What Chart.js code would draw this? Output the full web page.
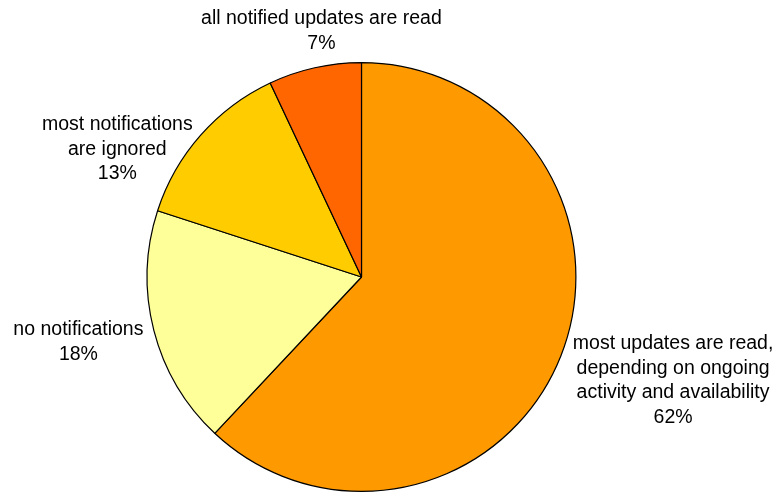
<!DOCTYPE html>
<html>
<head>
<meta charset="utf-8">
<script src="https://cdn.jsdelivr.net/npm/chart.js@4.4.1/dist/chart.umd.min.js"></script>
<style>
  html, body { margin: 0; padding: 0; background: #ffffff; }
  #wrap { width: 776px; height: 493px; position: relative; }
</style>
</head>
<body>
<div id="wrap"><canvas id="c" width="776" height="493"></canvas></div>
<script>
// ---- data ----
const categories = [
  "most updates are read,\ndepending on ongoing\nactivity and availability",
  "no notifications",
  "most notifications\nare ignored",
  "all notified updates are read"
];
const percents = [62, 18, 13, 7];
const sliceColors = ["#FF9900", "#FFFF99", "#FFCC00", "#FF6600"];

// label placement (styles / nudges, not data)
const labelPlacement = [
  { align: "left",   dx: 2,  dy: 21 },
  { align: "right",  dx: 0,  dy: 9 },
  { align: "right",  dx: 0,  dy: 21 },
  { align: "center", dx: 9,  dy: -26 }
];

const FONT = "19.5px 'Liberation Sans', Arial, sans-serif";
const LINE_H = 24.5;

const outsideLabels = {
  id: "outsideLabels",
  afterDatasetsDraw(chart) {
    const ctx = chart.ctx;
    const meta = chart.getDatasetMeta(0);
    ctx.save();
    ctx.font = FONT;
    ctx.fillStyle = "#000000";
    ctx.textBaseline = "middle";
    ctx.textAlign = "center";
    meta.data.forEach((arc, i) => {
      const p = arc.getProps(["x", "y", "startAngle", "endAngle", "outerRadius"], true);
      const mid = (p.startAngle + p.endAngle) / 2;
      const rr = p.outerRadius * 1.05;
      const ax = p.x + Math.cos(mid) * rr + labelPlacement[i].dx;
      const ay = p.y + Math.sin(mid) * rr + labelPlacement[i].dy;
      const lines = categories[i].split("\n").concat([percents[i] + "%"]);
      const w = Math.max(...lines.map(l => ctx.measureText(l).width));
      let cx;
      if (labelPlacement[i].align === "left") cx = ax + w / 2;
      else if (labelPlacement[i].align === "right") cx = ax - w / 2;
      else cx = ax;
      const top = ay - (lines.length - 1) * LINE_H / 2;
      lines.forEach((l, k) => ctx.fillText(l, cx, top + k * LINE_H));
    });
    ctx.restore();
  }
};

new Chart(document.getElementById("c"), {
  type: "pie",
  data: {
    labels: categories,
    datasets: [{
      data: percents,
      backgroundColor: sliceColors,
      borderColor: "#000000",
      borderWidth: 1.2,
      borderAlign: "center"
    }]
  },
  options: {
    responsive: false,
    animation: false,
    rotation: 0,
    layout: { padding: { left: 146, right: 199, top: 62, bottom: 1 } },
    plugins: {
      legend: { display: false },
      tooltip: { enabled: false },
      title: { display: false }
    }
  },
  plugins: [outsideLabels]
});
</script>
</body>
</html>
